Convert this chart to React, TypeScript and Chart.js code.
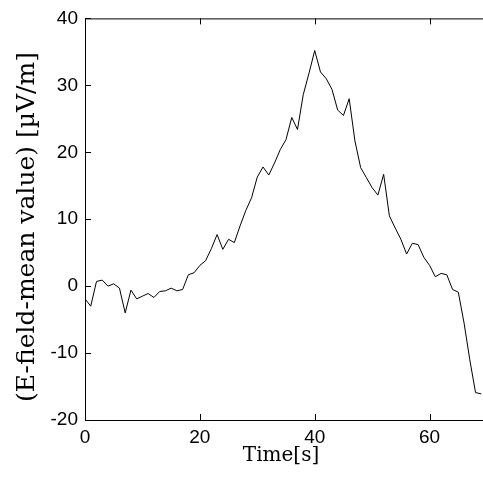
import React, { useEffect, useRef } from "react";
import { Chart, registerables } from "chart.js";

Chart.register(...registerables);

const times = [
  0, 1, 2, 3, 4, 5, 6, 7, 8, 9, 10, 11, 12, 13, 14, 15, 16, 17, 18, 19, 20, 21, 22, 23,
  24, 25, 26, 27, 28, 29, 30, 31, 32, 33, 34, 35, 36, 37, 38, 39, 40, 41, 42, 43, 44, 45,
  46, 47, 48, 49, 50, 51, 52, 53, 54, 55, 56, 57, 58, 59, 60, 61, 62, 63, 64, 65, 66, 67,
  68, 69,
];
const efield = [
  -1.9, -3.0, 0.7, 0.9, 0.0, 0.35, -0.3, -4.0, -0.6, -1.9, -1.5, -1.1, -1.7, -0.8, -0.7,
  -0.3, -0.7, -0.5, 1.7, 2.0, 3.1, 3.8, 5.6, 7.7, 5.5, 7.0, 6.5, 9.0, 11.3, 13.2, 16.3,
  17.8, 16.6, 18.4, 20.4, 21.9, 25.2, 23.4, 28.6, 31.8, 35.2, 32.0, 31.0, 29.4, 26.3, 25.5,
  28.0, 21.7, 17.7, 16.2, 14.7, 13.6, 16.7, 10.5, 8.7, 7.0, 4.8, 6.4, 6.2, 4.3, 3.1, 1.4,
  1.9, 1.7, -0.5, -0.9, -5.5, -11.0, -15.9, -16.1,
];
const xTicks = [0, 20, 40, 60];
const yTicks = [-20, -10, 0, 10, 20, 30, 40];
const xTitle = "Time[s]";
const yTitle = "(E-field-mean value) [µV/m]";

export default function App() {
  const ref = useRef<HTMLCanvasElement | null>(null);
  useEffect(() => {
    if (!ref.current) return;
    const framePlugin = {
      id: "frame",
      afterDraw(chart: any) {
        const { ctx, chartArea, scales } = chart;
        const { left, right, top, bottom } = chartArea;
        ctx.save();
        ctx.strokeStyle = "#000";
        ctx.lineWidth = 1;
        ctx.beginPath();
        ctx.moveTo(left + 0.5, top + 0.5);
        ctx.lineTo(left + 0.5, bottom + 0.5);
        ctx.lineTo(right, bottom + 0.5);
        ctx.moveTo(left + 0.5, top + 0.5);
        ctx.lineTo(right, top + 0.5);
        const tl = 6;
        xTicks.forEach((v) => {
          const x = Math.round(scales.x.getPixelForValue(v)) + 0.5;
          ctx.moveTo(x, bottom);
          ctx.lineTo(x, bottom - tl);
          ctx.moveTo(x, top);
          ctx.lineTo(x, top + tl);
        });
        yTicks.forEach((v) => {
          const y = Math.round(scales.y.getPixelForValue(v)) + 0.5;
          ctx.moveTo(left, y);
          ctx.lineTo(left + tl, y);
        });
        ctx.stroke();
        ctx.fillStyle = "#000";
        ctx.textAlign = "center";
        ctx.textBaseline = "middle";
        ctx.font = "20px 'DejaVu Serif'";
        ctx.fillText(xTitle, 281, 456);
        ctx.translate(27, 227);
        ctx.rotate(-Math.PI / 2);
        ctx.font = "25px 'DejaVu Serif'";
        ctx.fillText(yTitle, 0, 0);
        ctx.restore();
      },
    };
    const chart = new Chart(ref.current, {
      type: "line",
      data: {
        labels: times,
        datasets: [
          {
            data: times.map((t, i) => ({ x: t, y: efield[i] })),
            borderColor: "#000",
            borderWidth: 1,
            pointRadius: 0,
            tension: 0,
            fill: false,
          },
        ],
      },
      options: {
        animation: false,
        responsive: false,
        layout: { padding: { top: 17, right: 0, left: 0, bottom: 0 } },
        plugins: { legend: { display: false }, tooltip: { enabled: false } },
        scales: {
          x: {
            type: "linear",
            min: 0,
            max: 69.3,
            grid: { display: false, drawTicks: false, tickLength: 0 },
            border: { display: false },
            afterBuildTicks: (s: any) => {
              s.ticks = xTicks.map((v) => ({ value: v }));
            },
            afterFit: (s: any) => {
              s.height = 68;
            },
            ticks: {
              color: "#000",
              padding: 6,
              maxRotation: 0,
              font: { family: "'Liberation Sans', Arial", size: 19 },
            },
          },
          y: {
            type: "linear",
            min: -20,
            max: 40,
            grid: { display: false, drawTicks: false, tickLength: 0 },
            border: { display: false },
            afterBuildTicks: (s: any) => {
              s.ticks = yTicks.map((v) => ({ value: v }));
            },
            afterFit: (s: any) => {
              s.width = 85;
            },
            ticks: {
              color: "#000",
              padding: 7,
              font: { family: "'Liberation Sans', Arial", size: 19 },
            },
          },
        },
      },
      plugins: [framePlugin],
    } as any);
    return () => chart.destroy();
  }, []);
  return (
    <div style={{ position: "fixed", left: 0, top: 0, width: 483, height: 488, background: "#fff" }}>
      <canvas ref={ref} width={483} height={488} style={{ width: 483, height: 488, display: "block" }} />
    </div>
  );
}
